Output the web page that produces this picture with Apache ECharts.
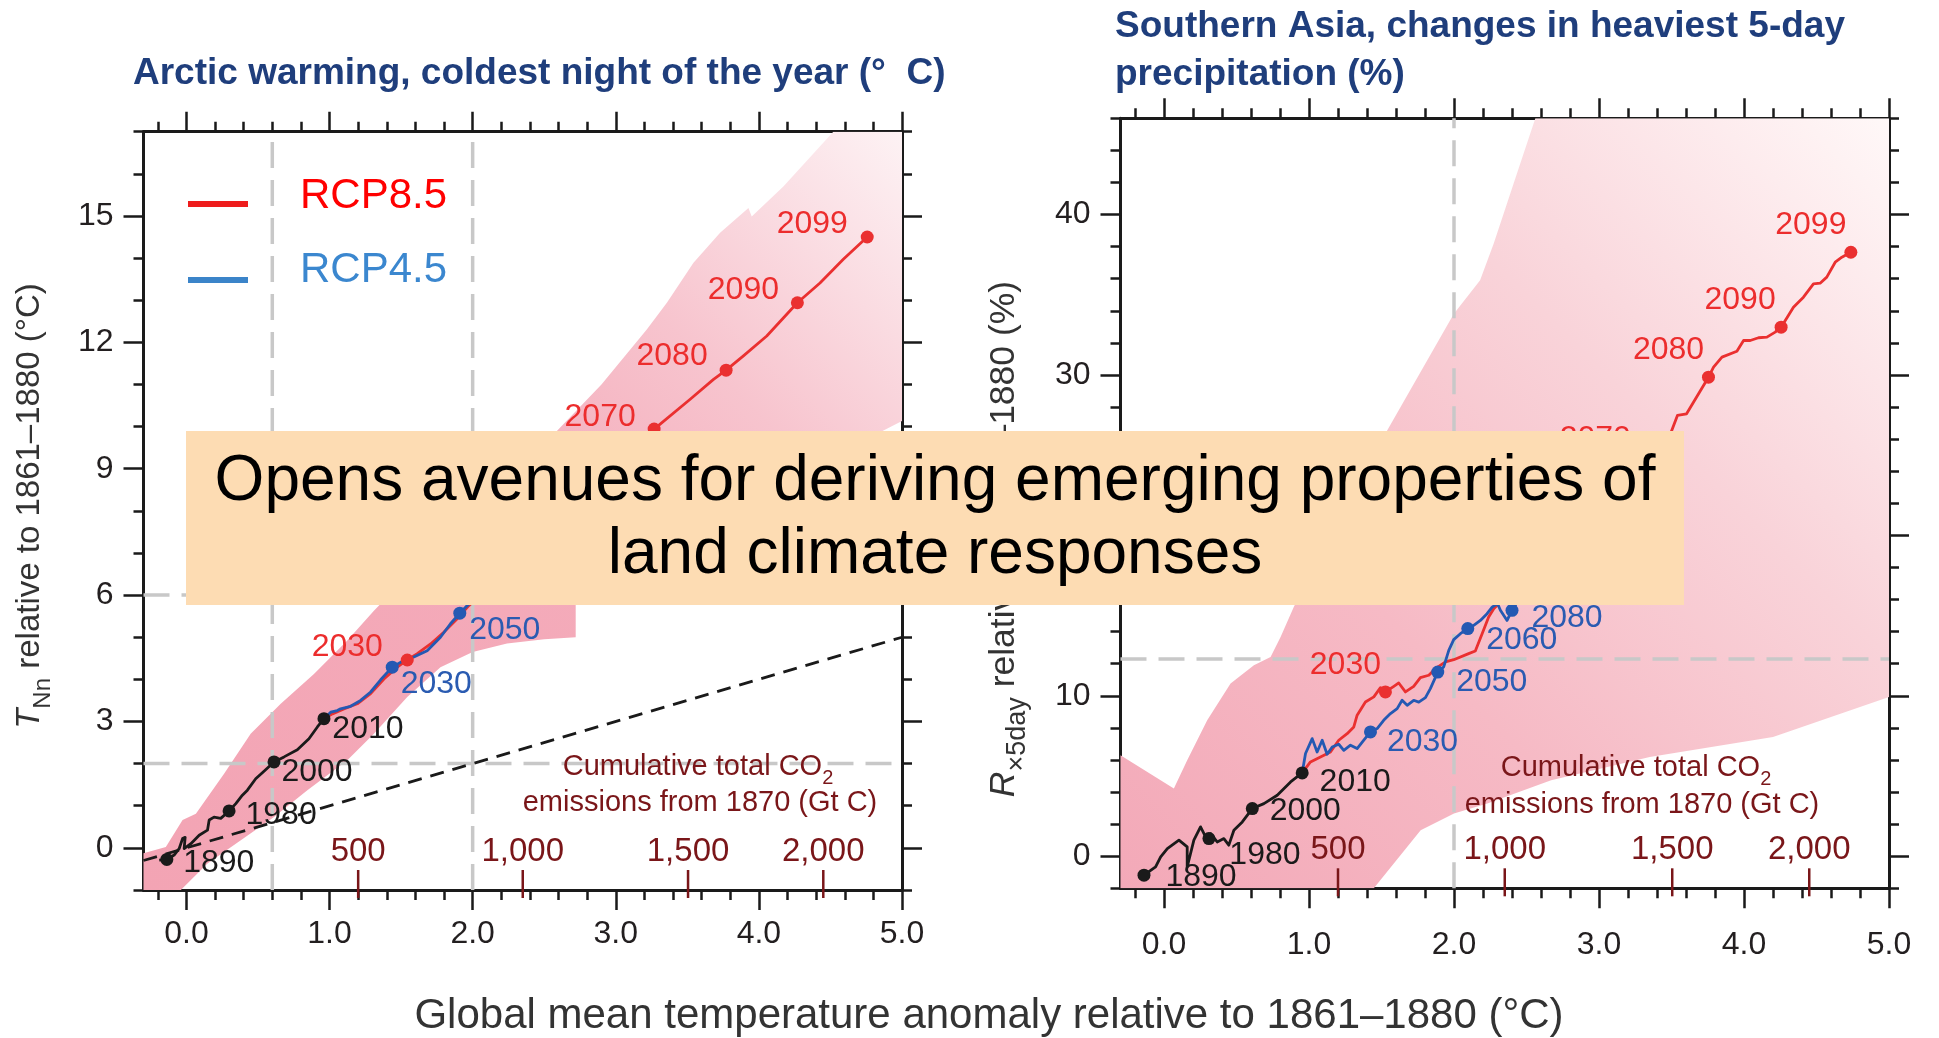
<!DOCTYPE html>
<html>
<head>
<meta charset="utf-8">
<script src="https://cdn.jsdelivr.net/npm/echarts@6/dist/echarts.min.js"></script>
<style>html,body{margin:0;padding:0;background:#fff;}#c{width:1939px;height:1038px;}</style>
</head>
<body>
<div id="c"></div>
<script>
// ---------------- DATA ----------------
const xMajor = [0, 1, 2, 3, 4, 5];
const xMinor = [-0.2, 0, 0.2, 0.4, 0.6, 0.8, 1, 1.2, 1.4, 1.6, 1.8, 2, 2.2, 2.4, 2.6, 2.8, 3, 3.2, 3.4, 3.6, 3.8, 4, 4.2, 4.4, 4.6, 4.8, 5];
const leftYMajor = [0, 3, 6, 9, 12, 15];
const leftYMinor = [-1, 0, 1, 2, 3, 4, 5, 6, 7, 8, 9, 10, 11, 12, 13, 14, 15, 16, 17];
const rightYMajor = [0, 10, 20, 30, 40];
const rightYMinor = [-2, 0, 2, 4, 6, 8, 10, 12, 14, 16, 18, 20, 22, 24, 26, 28, 30, 32, 34, 36, 38, 40, 42, 44, 46];

const co2TickX = [1.20, 2.35, 3.505, 4.45];
const co2Labels = ['500', '1,000', '1,500', '2,000'];

// Left panel: Arctic warming, coldest night (°C)
const leftBand = [[-0.3,-1],[-0.3,-0.13],[-0.144,0.02],[-0.027,0.66],[0.066,0.81],[0.263,1.76],[0.449,2.71],[0.659,3.42],[0.891,4.13],[1.124,4.92],[1.31,5.63],[1.9,7.7],[2.59,9.9],[2.9,11.0],[3.218,12.31],[3.357,12.94],[3.543,13.89],[3.729,14.6],[3.927,15.19],[3.95,14.99],[4.171,15.7],[4.52,17],[5,17],[5,10.13],[4.85,9.87],[2.72,6.0],[2.72,5.0],[2.5,4.95],[2.24,4.85],[2.0,4.65],[1.775,4.29],[1.543,3.58],[1.31,2.71],[1.124,2.08],[0.845,1.37],[0.612,0.73],[0.38,0.18],[0.147,-0.37],[-0.039,-1]];
const leftBlack = [[-0.19,-0.29],[-0.137,-0.275],[-0.086,-0.17],[-0.051,-0.02],[-0.027,0.22],[-0.009,0.25],[-0.016,-0.02],[0.031,0.10],[0.089,0.30],[0.147,0.42],[0.159,0.66],[0.193,0.73],[0.24,0.70],[0.298,0.877],[0.345,1.05],[0.391,1.25],[0.426,1.37],[0.484,1.64],[0.542,1.82],[0.612,2.04],[0.682,2.16],[0.775,2.33],[0.856,2.59],[0.915,2.87],[0.961,3.066]];
const leftRed = [[0.961,3.066],[1.02,3.18],[1.10,3.30],[1.194,3.42],[1.287,3.66],[1.38,4.01],[1.473,4.29],[1.543,4.46],[1.613,4.61],[1.706,4.84],[1.798,5.12],[1.892,5.44],[1.973,5.75],[2.3,6.7],[2.8,8.2],[3.268,9.94],[3.52,10.65],[3.683,11.12],[3.771,11.34],[3.892,11.68],[4.055,12.15],[4.269,12.94],[4.427,13.41],[4.59,13.97],[4.757,14.5]];
const leftBlue = [[0.961,3.066],[1.008,3.22],[1.054,3.26],[1.077,3.30],[1.147,3.36],[1.217,3.50],[1.287,3.70],[1.357,3.99],[1.438,4.29],[1.519,4.45],[1.589,4.53],[1.682,4.68],[1.775,5.00],[1.845,5.32],[1.91,5.57],[1.973,5.79],[2.1,6.1],[2.3,6.5],[2.5,6.9]];
const leftBlackDots = [[-0.137,-0.275,'1890'],[0.298,0.877,'1980'],[0.612,2.04,'2000'],[0.961,3.066,'2010']];
const leftRedDots = [[1.543,4.46,'2030'],[3.268,9.94,'2070'],[3.771,11.34,'2080'],[4.269,12.94,'2090'],[4.757,14.5,'2099']];
const leftBlueDots = [[1.438,4.29,'2030'],[1.91,5.57,'2050']];
const leftRefX = [0.6, 2.0];
const leftRefY = [2, 6];
const leftDiag = [[-0.3,-0.3],[5,5]];

// Right panel: Southern Asia, heaviest 5-day precipitation (%)
const rightBand = [[-0.3,-2],[-0.3,6.29],[0.068,4.22],[0.16,5.98],[0.298,8.47],[0.459,10.76],[0.62,11.9],[0.735,12.42],[0.804,13.66],[0.895,15.53],[1.2,21.0],[1.539,26.54],[1.998,33.8],[2.18,35.9],[2.274,38.2],[2.41,41.9],[2.561,46],[5,46],[5,9.93],[4.2,7.43],[3.35,6.19],[2.67,4.73],[2.23,3.28],[2.0,2.66],[1.77,1.62],[1.447,-2]];
const rightBlack = [[-0.173,-1.29],[-0.138,-1.18],[-0.058,-0.67],[-0.023,-0.04],[0.023,0.48],[0.103,1.0],[0.16,0.58],[0.16,-0.67],[0.206,1.0],[0.252,1.83],[0.287,1.2],[0.31,1.1],[0.321,1.41],[0.367,0.89],[0.413,1.1],[0.447,0.69],[0.482,1.62],[0.54,2.14],[0.609,2.97],[0.689,3.28],[0.781,3.8],[0.873,4.63],[0.953,5.19]];
const rightRed = [[0.953,5.19],[1.010,5.88],[1.079,6.19],[1.148,6.50],[1.205,7.23],[1.263,7.64],[1.309,8.06],[1.332,8.79],[1.389,9.61],[1.447,9.93],[1.493,10.51],[1.527,10.24],[1.585,10.59],[1.619,10.80],[1.665,10.24],[1.722,10.59],[1.768,11.13],[1.826,11.28],[1.872,11.69],[1.941,12.11],[1.998,12.25],[2.101,12.63],[2.147,12.79],[2.194,13.87],[2.239,14.91],[2.274,15.43],[2.5,17.5],[2.8,20.0],[3.05,22.5],[3.25,24.3],[3.4,25.6],[3.499,26.48],[3.541,27.48],[3.604,27.58],[3.755,29.86],[3.79,30.49],[3.848,31.11],[3.951,31.48],[3.997,32.15],[4.043,32.15],[4.10,32.32],[4.158,32.36],[4.215,32.67],[4.256,32.98],[4.341,34.22],[4.41,34.85],[4.479,35.68],[4.525,35.72],[4.571,36.10],[4.629,37.03],[4.675,37.34],[4.737,37.65]];
const rightBlue = [[0.953,5.19],[0.976,6.40],[1.022,7.33],[1.056,6.50],[1.091,7.23],[1.125,6.36],[1.16,6.81],[1.205,6.98],[1.24,6.60],[1.286,6.92],[1.332,6.71],[1.378,7.23],[1.424,7.75],[1.47,7.96],[1.515,8.47],[1.562,8.89],[1.608,9.20],[1.642,9.72],[1.677,9.41],[1.722,9.72],[1.757,9.61],[1.803,9.89],[1.837,10.45],[1.888,11.48],[1.929,11.80],[1.964,12.83],[1.998,13.50],[2.044,13.87],[2.095,14.19],[2.136,14.39],[2.182,14.70],[2.228,15.12],[2.263,15.53],[2.30,15.75],[2.32,15.33],[2.366,14.7],[2.40,15.33],[2.45,16.0],[2.5,16.5]];
const rightBlackDots = [[-0.138,-1.18,'1890'],[0.31,1.1,'1980'],[0.609,2.97,'2000'],[0.953,5.19,'2010']];
const rightRedDots = [[1.527,10.24,'2030'],[3.25,24.3,'2070'],[3.755,29.86,'2080'],[4.256,32.98,'2090'],[4.737,37.65,'2099']];
const rightBlueDots = [[1.424,7.75,'2030'],[1.888,11.48,'2050'],[2.095,14.19,'2060'],[2.40,15.33,'2080']];
const rightRefX = [2.0];
const rightRefY = [12.3];

// ---------------- STYLE ----------------
const FONT = '"Liberation Sans", Arial, Helvetica, sans-serif';
const AX = '#1a1a1a', TXT = '#231f20';
const RED = '#ea3030', BLUE = '#2459b3', BLK = '#1a1a1a';
const RED_T = '#ec2d2d', BLUE_T = '#2a5bb1';
const CO2C = '#7a1619';
const X_MIN = -0.3, X_MAX = 5;
const L = {ymin: -1, ymax: 17}, R = {ymin: -2, ymax: 46};

const labelOffsets = {
  L: {
    black: {'1890':[52,4],'1980':[52,4],'2000':[43,10],'2010':[44,10]},
    red: {'2030':[-60,-13],'2070':[-54,-12],'2080':[-54,-14],'2090':[-54,-13],'2099':[-55,-13]},
    blue: {'2030':[44,17],'2050':[45,17]}
  },
  R: {
    black: {'1890':[57,2],'1980':[56,17],'2000':[53,3],'2010':[53,9]},
    red: {'2030':[-40,-27],'2070':[-40,-27],'2080':[-40,-27],'2090':[-41,-27],'2099':[-40,-27]},
    blue: {'2030':[52,10],'2050':[54,10],'2060':[54,12],'2080':[55,8]}
  }
};

function xAxes(g, margin) {
  const base = {gridIndex: g, type: 'value', min: X_MIN, max: X_MAX, splitLine: {show: false}};
  const tl = {color: AX, width: 2.5};
  return [
    Object.assign({}, base, {position: 'bottom',
      axisLine: {show: true, onZero: false, lineStyle: {color: AX, width: 3}},
      axisTick: {show: true, length: 20, customValues: xMajor, lineStyle: tl},
      axisLabel: {show: true, customValues: xMajor, formatter: v => Number(v).toFixed(1), margin: margin, fontSize: 32, color: TXT, fontFamily: FONT}}),
    Object.assign({}, base, {position: 'bottom',
      axisLine: {show: false, onZero: false},
      axisTick: {show: true, length: 10, customValues: xMinor, lineStyle: tl},
      axisLabel: {show: false}}),
    Object.assign({}, base, {position: 'top',
      axisLine: {show: true, onZero: false, lineStyle: {color: AX, width: 3}},
      axisTick: {show: true, length: 20, customValues: xMajor, lineStyle: tl},
      axisLabel: {show: false}}),
    Object.assign({}, base, {position: 'top',
      axisLine: {show: false, onZero: false},
      axisTick: {show: true, length: 10, customValues: xMinor, lineStyle: tl},
      axisLabel: {show: false}})
  ];
}
function yAxes(g, lim, major, minor) {
  const base = {gridIndex: g, type: 'value', min: lim.ymin, max: lim.ymax, splitLine: {show: false}};
  const tl = {color: AX, width: 2.5};
  return [
    Object.assign({}, base, {position: 'left',
      axisLine: {show: true, onZero: false, lineStyle: {color: AX, width: 3}},
      axisTick: {show: true, length: 20, customValues: major, lineStyle: tl},
      axisLabel: {show: true, customValues: major, formatter: v => String(v), margin: 30, fontSize: 32, color: TXT, fontFamily: FONT}}),
    Object.assign({}, base, {position: 'left',
      axisLine: {show: false, onZero: false},
      axisTick: {show: true, length: 10, customValues: minor, lineStyle: tl},
      axisLabel: {show: false}}),
    Object.assign({}, base, {position: 'right',
      axisLine: {show: true, onZero: false, lineStyle: {color: AX, width: 3}},
      axisTick: {show: true, length: 20, customValues: major, lineStyle: tl},
      axisLabel: {show: false}}),
    Object.assign({}, base, {position: 'right',
      axisLine: {show: false, onZero: false},
      axisTick: {show: true, length: 10, customValues: minor, lineStyle: tl},
      axisLabel: {show: false}})
  ];
}

function bandSeries(xi, pts, stops) {
  return {
    type: 'custom', xAxisIndex: xi, yAxisIndex: xi, data: pts, z: 1, silent: true, clip: true,
    renderItem: function (params, api) {
      if (params.dataIndex !== 0) return null;
      const p = pts.map(q => api.coord(q));
      return {type: 'polygon', shape: {points: p},
        style: {fill: new echarts.graphic.LinearGradient(0, 1, 1, 0, stops)}};
    }
  };
}
function refSeries(xi, lim, refX, refY) {
  const out = [];
  refX.forEach(v => out.push([[v, lim.ymin], [v, lim.ymax]]));
  refY.forEach(v => out.push([[X_MIN, v], [X_MAX, v]]));
  return out.map(d => ({type: 'line', xAxisIndex: xi, yAxisIndex: xi, data: d, symbol: 'none', silent: true, z: 2,
    lineStyle: {color: '#c8c8c8', width: 3.5, type: [26, 12]}}));
}
function lineSeries(xi, data, color) {
  return {type: 'line', xAxisIndex: xi, yAxisIndex: xi, data: data, symbol: 'none', silent: true, z: 4,
    lineStyle: {color: color, width: 2.8, join: 'round'}};
}
function dotSeries(xi, dots, color, tcolor, offs) {
  return {type: 'scatter', xAxisIndex: xi, yAxisIndex: xi, symbolSize: 13, silent: true, z: 5,
    itemStyle: {color: color, opacity: 1},
    label: {show: true, position: 'inside', formatter: '{b}', color: tcolor, fontSize: 32, fontFamily: FONT},
    data: dots.map(d => ({name: d[2], value: [d[0], d[1]], label: {offset: offs[d[2]] || [0, 0]}}))};
}
function co2Series(xi, lim) {
  return {type: 'custom', xAxisIndex: xi, yAxisIndex: xi, clip: false, silent: true, z: 6,
    data: co2TickX.map((x, i) => [x, i]),
    renderItem: function (params, api) {
      const p = api.coord([api.value(0), lim.ymin]);
      return {type: 'group', children: [
        {type: 'line', shape: {x1: p[0], y1: p[1] - 20, x2: p[0], y2: p[1] + 8}, style: {stroke: CO2C, lineWidth: 2.5}},
        {type: 'text', style: {x: p[0], y: p[1] - 38, text: co2Labels[api.value(1)], fill: CO2C, fontSize: 33, fontFamily: FONT, align: 'center', verticalAlign: 'middle'}}
      ]};
    }};
}

const leftStops = [{offset: 0, color: '#f3a4b4'}, {offset: 0.5, color: '#f4abba'}, {offset: 0.72, color: '#f7c4ce'}, {offset: 1, color: '#fdf2f4'}];
const rightStops = [{offset: 0, color: '#f3a9b8'}, {offset: 0.35, color: '#f6bac5'}, {offset: 0.65, color: '#f9d3d9'}, {offset: 1, color: '#fff8f8'}];

const series = [].concat(
  [bandSeries(0, leftBand, leftStops)],
  refSeries(0, L, leftRefX, leftRefY),
  [{type: 'line', xAxisIndex: 0, yAxisIndex: 0, data: leftDiag, symbol: 'none', silent: true, z: 3, lineStyle: {color: BLK, width: 2.8, type: [14, 9]}}],
  [lineSeries(0, leftBlack, BLK), lineSeries(0, leftRed, RED), lineSeries(0, leftBlue, BLUE)],
  [dotSeries(0, leftBlackDots, BLK, BLK, labelOffsets.L.black), dotSeries(0, leftRedDots, RED, RED_T, labelOffsets.L.red), dotSeries(0, leftBlueDots, BLUE, BLUE_T, labelOffsets.L.blue)],
  [co2Series(0, L)],
  [bandSeries(4, rightBand, rightStops)],
  refSeries(4, R, rightRefX, rightRefY),
  [lineSeries(4, rightBlack, BLK), lineSeries(4, rightRed, RED), lineSeries(4, rightBlue, BLUE)],
  [dotSeries(4, rightBlackDots, BLK, BLK, labelOffsets.R.black), dotSeries(4, rightRedDots, RED, RED_T, labelOffsets.R.red), dotSeries(4, rightBlueDots, BLUE, BLUE_T, labelOffsets.R.blue)],
  [co2Series(4, R)]
);

function txt(x, y, text, size, color, extra) {
  return Object.assign({type: 'text', x: x, y: y, z: 50, silent: true,
    style: Object.assign({text: text, fill: color, fontSize: size, fontFamily: FONT, align: 'left', verticalAlign: 'middle'}, (extra && extra.style) || {})},
    extra && extra.rotation !== undefined ? {rotation: extra.rotation} : {});
}
const TITLE = '#1f3e7c';
const graphic = [
  txt(133, 74, 'Arctic warming, coldest night of the year (°  C)', 37, TITLE, {style: {fontWeight: 'bold'}}),
  txt(1115, 27, 'Southern Asia, changes in heaviest 5-day', 37, TITLE, {style: {fontWeight: 'bold'}}),
  txt(1115, 75, 'precipitation (%)', 37, TITLE, {style: {fontWeight: 'bold'}}),
  // legend
  {type: 'line', z: 50, silent: true, shape: {x1: 188, y1: 204, x2: 248, y2: 204}, style: {stroke: '#ee1c1c', lineWidth: 6}},
  {type: 'line', z: 50, silent: true, shape: {x1: 188, y1: 280, x2: 248, y2: 280}, style: {stroke: '#3b84c9', lineWidth: 6}},
  txt(300, 196, 'RCP8.5', 42, '#ff0000'),
  txt(300, 270, 'RCP4.5', 42, '#3b87cf'),
  // CO2 annotation
  txt(698, 767, '{a|Cumulative total CO}{s|2}', 29, CO2C, {style: {align: 'center', rich: {
    a: {fontSize: 29, fontFamily: FONT, fill: CO2C, lineHeight: 42},
    s: {fontSize: 20, fontFamily: FONT, fill: CO2C, lineHeight: 20, verticalAlign: 'bottom'}}}}),
  txt(700, 803, 'emissions from 1870 (Gt C)', 29, CO2C, {style: {align: 'center'}}),
  txt(1636, 768, '{a|Cumulative total CO}{s|2}', 29, CO2C, {style: {align: 'center', rich: {
    a: {fontSize: 29, fontFamily: FONT, fill: CO2C, lineHeight: 42},
    s: {fontSize: 20, fontFamily: FONT, fill: CO2C, lineHeight: 20, verticalAlign: 'bottom'}}}}),
  txt(1642, 805, 'emissions from 1870 (Gt C)', 29, CO2C, {style: {align: 'center'}}),
  // axis names
  txt(989, 1016, 'Global mean temperature anomaly relative to 1861–1880 (°C)', 42, '#333333', {style: {align: 'center'}}),
  txt(30, 506, '{i|T}{s|Nn}{n| relative to 1861–1880 (°C)}', 33, '#333333', {rotation: Math.PI / 2, style: {align: 'center', rich: {
    i: {fontSize: 33, fontStyle: 'italic', fontFamily: FONT, fill: '#333333', lineHeight: 50},
    s: {fontSize: 24, fontFamily: FONT, fill: '#333333', lineHeight: 24, verticalAlign: 'bottom'},
    n: {fontSize: 33, fontFamily: FONT, fill: '#333333', lineHeight: 50}}}}),
  txt(1004, 539, '{i|R}{s|×5day}{n| relative to 1861–1880 (%)}', 35.5, '#333333', {rotation: Math.PI / 2, style: {align: 'center', rich: {
    i: {fontSize: 35.5, fontStyle: 'italic', fontFamily: FONT, fill: '#333333', lineHeight: 54},
    s: {fontSize: 27, fontFamily: FONT, fill: '#333333', lineHeight: 27, verticalAlign: 'bottom'},
    n: {fontSize: 35.5, fontFamily: FONT, fill: '#333333', lineHeight: 54}}}}),
  // overlay box
  {type: 'rect', z: 100, silent: true, shape: {x: 186, y: 431, width: 1498, height: 174}, style: {fill: '#fddcb3'}},
  Object.assign(txt(935, 482, 'Opens avenues for deriving emerging properties of', 64, '#000000', {style: {align: 'center'}}), {z: 101}),
  Object.assign(txt(935, 555, 'land climate responses', 64, '#000000', {style: {align: 'center'}}), {z: 101})
];

const option = {
  backgroundColor: '#ffffff',
  animation: false,
  textStyle: {fontFamily: FONT},
  grid: [
    {left: 143.5, top: 131.7, width: 758.5, height: 758.3, containLabel: false},
    {left: 1120.5, top: 118.3, width: 768.5, height: 770, containLabel: false}
  ],
  xAxis: [].concat(xAxes(0, 28), xAxes(1, 41)),
  yAxis: [].concat(yAxes(0, L, leftYMajor, leftYMinor), yAxes(1, R, rightYMajor, rightYMinor)),
  series: series,
  graphic: graphic
};
const chart = echarts.init(document.getElementById('c'), null, {renderer: 'canvas'});
chart.setOption(option);
</script>
</body>
</html>
